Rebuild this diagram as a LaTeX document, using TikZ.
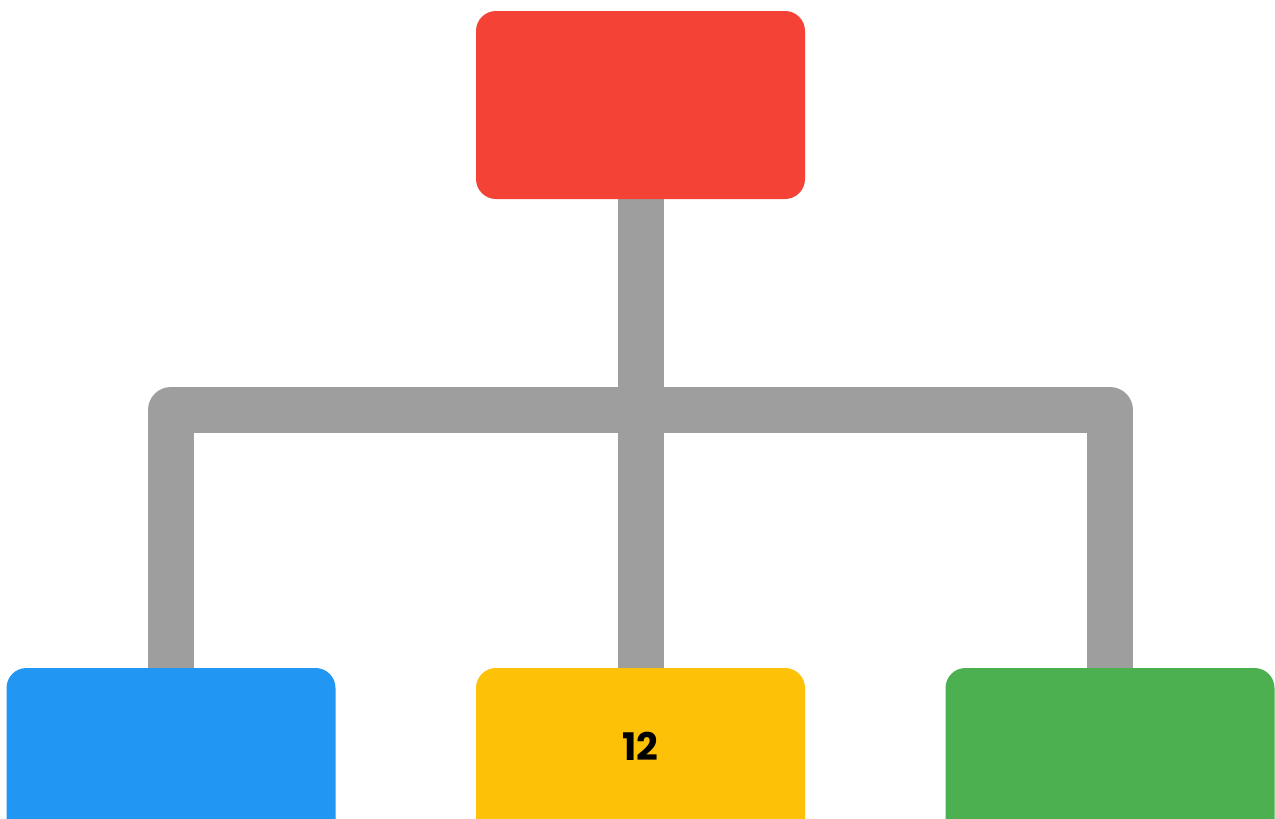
\documentclass[tikz,border=0pt]{standalone}
\usepackage{fontspec}
\newfontfamily\numfont{Poppins}
\usetikzlibrary{backgrounds}
\definecolor{topRed}{HTML}{F44336}
\definecolor{leafBlue}{HTML}{2196F3}
\definecolor{leafYellow}{HTML}{FDC107}
\definecolor{leafGreen}{HTML}{4CAF50}
\definecolor{connGray}{HTML}{9E9E9E}
\tikzset{
  box/.style={rectangle, rounded corners=20pt, inner sep=0pt, minimum width=329pt, minimum height=188pt},
  topbox/.style={box, fill=topRed},
  leafbox/.style={box, font=\numfont\bfseries\fontsize{38}{40}\selectfont, text=black, text depth=32pt},
  conn/.style={draw=connGray, line width=46pt, line join=round, line cap=butt}
}
\begin{document}
\begin{tikzpicture}[x=1pt,y=-1pt]
\useasboundingbox (0,0) rectangle (1275,819);
\clip (0,0) rectangle (1275,819);
\node[topbox] (top) at (640.5,105) {};
\node[leafbox, fill=leafBlue] (b1) at (171,762) {};
\node[leafbox, fill=leafYellow] (b2) at (640.5,762) {12};
\node[leafbox, fill=leafGreen] (b3) at (1110,762) {};
\coordinate (bar) at (640.5,410);
\begin{pgfonlayer}{background}
\fill[white] (0,0) rectangle (1275,819);
\draw[conn] (top.south) -- (b2.north);
\draw[conn] (b1.north) |- (bar) -| (b3.north);
\end{pgfonlayer}
\end{tikzpicture}
\end{document}
